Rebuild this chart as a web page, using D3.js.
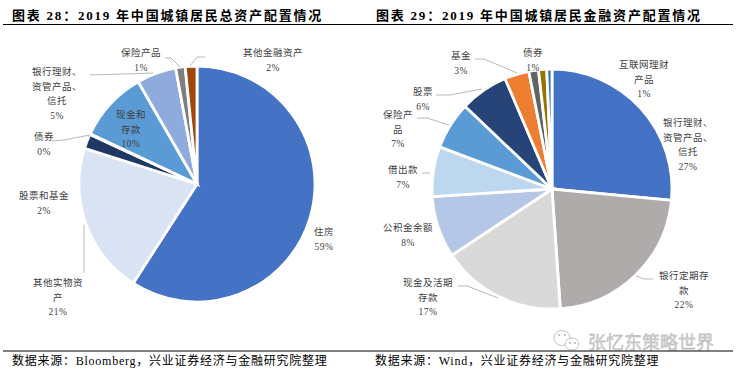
<!DOCTYPE html>
<html>
<head>
<meta charset="utf-8">
<script src="https://cdn.jsdelivr.net/npm/d3@7"></script>
<style>
html, body { margin: 0; padding: 0; background: #fff; }
svg { display: block; }
</style>
</head>
<body>
<div id="chart"></div>
<script>
// left pie
var leftNames = ["住房", "其他实物资产", "股票和基金", "债券", "现金和存款", "银行理财、资管产品、信托", "保险产品", "其他金融资产"];
var leftValues = [59.1, 20.8, 2.0, 0.1, 9.7, 5.4, 1.3, 1.6];
var leftLabels = [["住房", "59%"], ["其他实物资", "产", "21%"], ["股票和基金", "2%"], ["债券", "0%"], ["现金和", "存款", "10%"], ["银行理财、", "资管产品、", "信托", "5%"], ["保险产品", "1%"], ["其他金融资产", "2%"]];
var leftColors = ["#4472c4", "#dae3f3", "#1f3864", "#8faadc", "#5b9bd5", "#8faadc", "#7f7f7f", "#9e480e"];

// right pie
var rightNames = ["银行理财、资管产品、信托", "银行定期存款", "现金及活期存款", "公积金余额", "借出款", "保险产品", "股票", "基金", "债券", "其他", "互联网理财产品"];
var rightValues = [26.5, 22.4, 16.8, 8.3, 6.7, 6.4, 6.5, 3.3, 1.3, 1.1, 0.7];
var rightLabels = [["银行理财、", "资管产品、", "信托", "27%"], ["银行定期存", "款", "22%"], ["现金及活期", "存款", "17%"], ["公积金余额", "8%"], ["借出款", "7%"], ["保险产", "品", "7%"], ["股票", "6%"], ["基金", "3%"], ["债券", "1%"], null, ["互联网理财", "产品", "1%"]];
var rightColors = ["#4472c4", "#afabab", "#d9d9d9", "#b4c7e7", "#bdd7ee", "#5b9bd5", "#264478", "#ed7d31", "#636363", "#997300", "#2e75b6"];

// layout of the labels, kept apart from the values
var leftPlaces = [[324, 235], [58, 286], [44, 199], [44, 140], [131, 118], [57, 75], [141, 56], [273, 56]];
var leftLeaders = [null, [[84, 225], [84, 273]], null, [[90, 135], [64, 140], [52, 141]], null, [[153, 73], [90, 75]], [[180, 67], [171, 58], [165, 58]], [[190, 66], [197, 57], [205, 57]]];
var rightPlaces = [[688, 126], [684, 279], [428, 286], [408, 231], [403, 173], [398, 118], [423, 95], [461, 59], [533, 56], null, [644, 68]];
var rightLeaders = [null, [[636, 276], [644, 279], [653, 279]], [[498, 298], [467, 286], [458, 286]], null, [[430, 173], [422, 173]], [[449, 125], [427, 118], [417, 118]], [[482, 89], [450, 95], [436, 95]], [[517, 73], [484, 59], [475, 59]], null, null, null];

var width = 737;
var height = 375;

var cjk = "'Liberation Serif', 'Noto Sans CJK SC', serif";

var svg = d3.select("#chart").append("svg")
    .attr("width", width)
    .attr("height", height)
    .attr("viewBox", [0, 0, width, height]);

function drawPie(values, colors, labels, places, leaders, cx, cy, r) {
    var pie = d3.pie().sort(null).value(d => d)(values);
    var arc = d3.arc().innerRadius(0).outerRadius(r);

    var g = svg.append("g").attr("transform", `translate(${cx},${cy})`);
    g.selectAll("path")
        .data(pie)
        .join("path")
        .attr("d", arc)
        .attr("fill", (d, i) => colors[i])
        .attr("stroke", "#fff")
        .attr("stroke-width", 2.8);

    var line = d3.line();
    svg.append("g").selectAll("path")
        .data(leaders.filter(d => d))
        .join("path")
        .attr("d", d => line(d))
        .attr("fill", "none")
        .attr("stroke", "#a6a6a6")
        .attr("stroke-width", 0.8);

    labels.forEach(function (lines, i) {
        if (!lines) return;
        var t = svg.append("text")
            .attr("text-anchor", "middle")
            .attr("font-family", cjk)
            .attr("font-size", 9.5)
            .attr("letter-spacing", 0.5)
            .attr("fill", "#404040");
        lines.forEach(function (s, j) {
            t.append("tspan")
                .attr("x", places[i][0])
                .attr("y", places[i][1] + j * 14.5)
                .text(s);
        });
    });
}

drawPie(leftValues, leftColors, leftLabels, leftPlaces, leftLeaders, 197, 184, 118);
drawPie(rightValues, rightColors, rightLabels, rightPlaces, rightLeaders, 552, 189, 120);

// watermark, under the footer rule
svg.append("text")
    .attr("x", 588).attr("y", 349)
    .attr("font-family", "'Noto Sans CJK SC', sans-serif")
    .attr("font-size", 18)
    .attr("fill", "#d0d0d0")
    .attr("stroke", "#a8a8a8")
    .attr("stroke-width", 0.3)
    .text("张忆东策略世界");

var mark = svg.append("g").attr("fill", "#fff").attr("stroke", "#c4c4c4").attr("stroke-width", 1);
mark.append("ellipse").attr("cx", 562).attr("cy", 338).attr("rx", 8).attr("ry", 7.5);
mark.append("ellipse").attr("cx", 572).attr("cy", 344).attr("rx", 7).attr("ry", 6);
var dots = svg.append("g").attr("fill", "#b0b0b0");
[[559, 335], [565, 335], [570, 343], [575, 343]].forEach(function (p) {
    dots.append("circle").attr("cx", p[0]).attr("cy", p[1]).attr("r", 1);
});

// header and footer rules
[24.5, 351].forEach(function (y) {
    svg.append("line")
        .attr("x1", 3).attr("x2", 733)
        .attr("y1", y).attr("y2", y)
        .attr("stroke", "#000")
        .attr("stroke-width", 1);
});

function heading(x, s) {
    svg.append("text")
        .attr("x", x).attr("y", 20)
        .attr("font-family", cjk)
        .attr("font-size", 13)
        .attr("font-weight", "bold")
        .attr("letter-spacing", 1.78)
        .attr("fill", "#000")
        .text(s);
}
heading(12, "图表 28\uFF1A2019 年中国城镇居民总资产配置情况");
heading(376, "图表 29\uFF1A2019 年中国城镇居民金融资产配置情况");

function source(x, s) {
    svg.append("text")
        .attr("x", x).attr("y", 365)
        .attr("font-family", cjk)
        .attr("font-size", 12)
        .attr("letter-spacing", 0.75)
        .attr("fill", "#000")
        .text(s);
}
source(12, "数据来源\uFF1ABloomberg\uFF0C兴业证券经济与金融研究院整理");
source(375, "数据来源\uFF1AWind\uFF0C兴业证券经济与金融研究院整理");
</script>
</body>
</html>
